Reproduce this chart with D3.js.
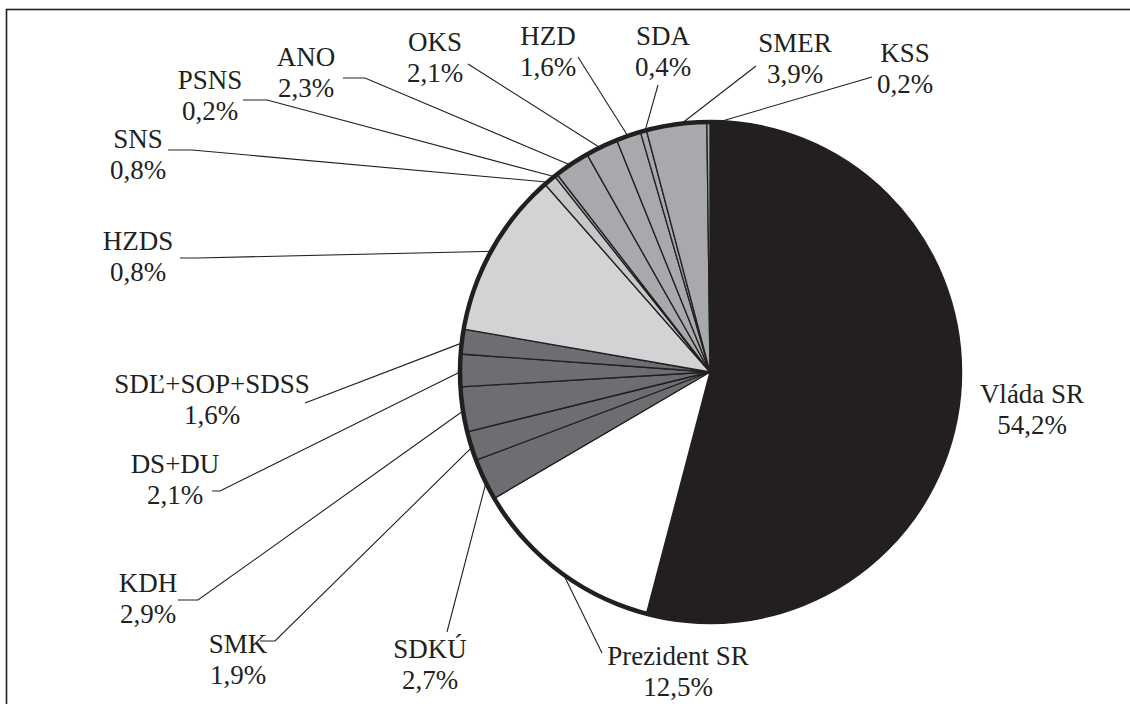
<!DOCTYPE html>
<html>
<head>
<meta charset="utf-8">
<script src="https://cdn.jsdelivr.net/npm/d3@7"></script>
<style>
  body { margin: 0; background: #fff; }
</style>
</head>
<body>
<svg id="chart" width="1130" height="704"></svg>
<script>
// data, clockwise from 12 o'clock
var parties = ["Vláda SR", "Prezident SR", "SDKÚ", "SMK", "KDH", "DS+DU", "SDĽ+SOP+SDSS",
  "HZDS", "SNS", "PSNS", "ANO", "OKS", "HZD", "SDA", "SMER", "KSS"];
var shares = [54.2, 12.5, 2.7, 1.9, 2.9, 2.1, 1.6, 10.8, 0.8, 0.2, 2.3, 2.1, 1.6, 0.4, 3.9, 0.2];
// printed labels (as in the source, HZDS slice is printed 0,8%)
var shareLabels = ["54,2%", "12,5%", "2,7%", "1,9%", "2,9%", "2,1%", "1,6%",
  "0,8%", "0,8%", "0,2%", "2,3%", "2,1%", "1,6%", "0,4%", "3,9%", "0,2%"];
var groups = ["gov", "pres", "opp", "opp", "opp", "opp", "opp",
  "hzds", "light", "other", "other", "other", "other", "other", "other", "other"];

var fills = { gov: "#231f20", pres: "#ffffff", opp: "#6d6e71", hzds: "#d1d3d4", light: "#c6c7c9", other: "#a7a9ac" };

// label placement: [center x, first baseline], and leader start points
var labelAt = [
  [1032, 403], [678, 665], [430, 658], [238, 653], [148, 592], [175, 473], [212, 393],
  [138, 250], [138, 148], [210, 89], [306, 66], [435, 51], [548, 45], [663, 45], [795, 52], [905, 62]
];
var leaders = [
  null,
  [[602, 653]],
  [[447, 632]],
  [[260, 641], [275, 641]],
  [[178, 600], [198, 600]],
  [[212, 491], [220, 491]],
  [[305, 403]],
  [[180, 258], [198, 258]],
  [[168, 150], [192, 150]],
  [[243, 100], [267, 100]],
  [[343, 78], [365, 78]],
  [[468, 64]],
  [[578, 57]],
  [[658, 85]],
  [[756, 66]],
  [[872, 77]]
];

var svg = d3.select("#chart");
var cx = 710, cy = 372, r = 250;

// frame
svg.append("rect")
  .attr("x", 6.5).attr("y", 9.5)
  .attr("width", 1140).attr("height", 720)
  .attr("fill", "none").attr("stroke", "#231f20").attr("stroke-width", 1.6);

var pie = d3.pie().sort(null).value(function (d) { return d; });
var arcs = pie(shares);
var arc = d3.arc().innerRadius(0).outerRadius(r);
var edge = d3.arc().innerRadius(r - 3).outerRadius(r - 3);

var g = svg.append("g").attr("transform", "translate(" + cx + "," + cy + ")");

// leader lines
var line = d3.line();
g.selectAll(".leader")
  .data(arcs.filter(function (d, i) { return leaders[i]; }))
  .enter()
  .append("path")
  .attr("class", "leader")
  .attr("fill", "none")
  .attr("stroke", "#231f20")
  .attr("stroke-width", 1.1)
  .attr("d", function (d) {
    var pts = leaders[d.index].map(function (p) { return [p[0] - cx, p[1] - cy]; });
    pts.push(edge.centroid(d));
    return line(pts);
  });

// slices
g.selectAll(".slice")
  .data(arcs)
  .enter()
  .append("path")
  .attr("class", "slice")
  .attr("d", arc)
  .attr("fill", function (d, i) { return fills[groups[i]]; })
  .attr("stroke", "#231f20")
  .attr("stroke-width", 1.3)
  .attr("stroke-linejoin", "round");

// thick outer rim
g.append("circle")
  .attr("r", r)
  .attr("fill", "none")
  .attr("stroke", "#231f20")
  .attr("stroke-width", 4.5);

// labels
var labels = svg.selectAll(".label")
  .data(parties)
  .enter()
  .append("text")
  .attr("class", "label")
  .attr("text-anchor", "middle")
  .style("font-family", "Liberation Serif, DejaVu Serif, serif", "important")
  .style("font-size", "27px")
  .attr("fill", "#231f20");

labels.append("tspan")
  .attr("x", function (d, i) { return labelAt[i][0]; })
  .attr("y", function (d, i) { return labelAt[i][1]; })
  .text(function (d) { return d; });

labels.append("tspan")
  .attr("x", function (d, i) { return labelAt[i][0]; })
  .attr("y", function (d, i) { return labelAt[i][1] + 31; })
  .text(function (d, i) { return shareLabels[i]; });
</script>
</body>
</html>
